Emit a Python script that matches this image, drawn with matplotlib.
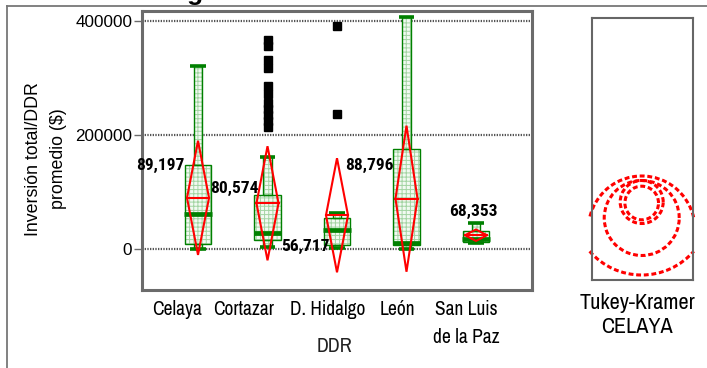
import matplotlib.pyplot as plt
from matplotlib.patches import Rectangle, Arc, Polygon
from matplotlib.lines import Line2D
import numpy as np

# ---- data ----
groups = ['Celaya', 'Cortazar', 'D. Hidalgo', 'León', 'San Luis\nde la Paz']
means = [90500, 81000, 60000, 89000, 25000]
ci_half = [100000, 100000, 100000, 128000, 10000]
whisk_lo = [1000, 3500, 3000, 0, 12000]
q1 = [8800, 17500, 7500, 7000, 13300]
median = [62000, 29000, 35000, 12000, 18000]
q3 = [148000, 95300, 54400, 175400, 32100]
whisk_hi = [322000, 162500, 64500, 407000, 46700]
mean_labels = ['89,197', '80,574', '56,717', '88,796', '68,353']

cortazar_out = [368000, 357000, 332000, 318000, 286000, 272000,
                257000, 246000, 235000, 225000, 214000]
hidalgo_out = [391800, 236800]

# comparison circles (panel units) and the part of each that shows
circle_cy = [77, 78, 62, 50.7, 74]
circle_r = [16.8, 21.5, 37.5, 53.3, 69]
circle_arc = [(0, 360), (0, 360), (0, 360), (13, 167), (221, 319)]

# ---- style ----
narrow = ['Archivo Narrow', 'Liberation Sans', 'DejaVu Sans']
narrow_bold = ['Roboto Condensed', 'Archivo Narrow', 'Liberation Sans']
plain = ['Liberation Sans', 'DejaVu Sans']
green = '#008000'
frame = '#6b6b6b'
plt.rcParams['hatch.linewidth'] = 0.7

fig = plt.figure(figsize=(7.07, 3.68), dpi=100)
ax = fig.add_axes([142/707, 78/368, 390/707, 279/368])

x = np.arange(1, len(groups) + 1)
box_w, thin_w, cap_w, med_w, dia_w = 0.38, 0.12, 0.22, 0.40, 0.317

def filled(x0, y0, w, h):
    ax.add_patch(Rectangle((x0, y0), w, h, fc='#f2faf2', ec='#a3d4a3',
                           hatch='++++', lw=0, zorder=2))
    ax.add_patch(Rectangle((x0, y0), w, h, fc='none', ec=green,
                           lw=1.0, zorder=3))

for i, xi in enumerate(x):
    filled(xi - thin_w/2, q3[i], thin_w, whisk_hi[i] - q3[i])
    filled(xi - thin_w/2, whisk_lo[i], thin_w, q1[i] - whisk_lo[i])
    filled(xi - box_w/2, q1[i], box_w, q3[i] - q1[i])
    ax.plot([xi - cap_w/2, xi + cap_w/2], [whisk_hi[i]] * 2, color=green,
            lw=2.6, solid_capstyle='butt', zorder=4)
    ax.plot([xi - cap_w/2, xi + cap_w/2], [whisk_lo[i]] * 2, color=green,
            lw=2.6, solid_capstyle='butt', zorder=4)
    ax.plot([xi - med_w/2, xi + med_w/2], [median[i]] * 2, color=green,
            lw=3.4, solid_capstyle='butt', zorder=4)
    # mean diamond
    m, h = means[i], ci_half[i]
    ax.add_patch(Polygon([[xi, m + h], [xi + dia_w/2, m], [xi, m - h],
                          [xi - dia_w/2, m]], closed=True, fc='none',
                         ec='red', lw=1.5, zorder=5))
    ax.plot([xi - dia_w/2, xi + dia_w/2], [m, m], color='red', lw=1.5, zorder=5)

ax.plot([2] * len(cortazar_out), cortazar_out, 's', color='black', ms=5.2, zorder=6)
ax.plot([3] * len(hidalgo_out), hidalgo_out, 's', color='black', ms=5.2, zorder=6)

# mean labels
lab_pos = [(0.80, 148000, 'right'), (1.18, 107000, 'left'), (2.20, 6000, 'left'),
           (3.115, 148000, 'left'), (4.96, 66000, 'center')]
for (lx, ly, ha), txt in zip(lab_pos, mean_labels):
    ax.text(lx, ly, txt, ha=ha, va='center', fontsize=12.5, fontweight='bold',
            family=narrow_bold, zorder=7)

ax.set_xlim(0.194, 5.806)
ax.set_ylim(-71000, 418000)
ax.set_yticks([0, 200000, 400000])
ax.set_yticklabels(['0', '200000', '400000'], family=plain, fontsize=12.3)
ax.set_xticks([0.705, 1.66, 2.865, 3.875, 4.86])
ax.set_xticklabels(groups, family=narrow, fontsize=14, linespacing=1.6)
ax.tick_params(axis='x', length=0, pad=7)
ax.tick_params(axis='y', length=6, width=1, color=frame, pad=1)
for yv in [0, 200000, 400000]:
    ax.axhline(yv, color='#555555', lw=1.6, ls=(0, (0.6, 0.6)), zorder=1)
for s in ax.spines.values():
    s.set_color(frame)
    s.set_linewidth(2.2)

fig.text(46/707, 1 - 159/368, 'Inversión total/DDR\npromedio ($)', rotation=90,
         ha='center', va='center', fontsize=12.8, family=plain, linespacing=1.6)
fig.text(335/707, 1 - 347/368, 'DDR', ha='center', va='center', fontsize=14.5,
         family=narrow, color='#222222')

# Tukey-Kramer comparison circles
pax = fig.add_axes([592/707, 88/368, 101/707, 262/368])
pax.set_xlim(0, 101)
pax.set_ylim(0, 262)
pax.set_xticks([])
pax.set_yticks([])
for s in pax.spines.values():
    s.set_color('#666666')
    s.set_linewidth(1.5)
for cy, r, (t1, t2) in zip(circle_cy, circle_r, circle_arc):
    pax.add_patch(Arc((49.7, cy), 2 * r, 2 * r, theta1=t1, theta2=t2,
                      color='red', lw=2.2, ls=(0, (1.6, 0.9)), clip_on=False))

fig.text(637/707, 1 - 315/368, 'Tukey-Kramer\nCELAYA', ha='center', va='center',
         fontsize=16, family=narrow, linespacing=1.25)

# outer frame and the clipped title above it
fig.add_artist(Line2D([7/707, 1], [1 - 6/368] * 2, color='#777777', lw=1.3))
fig.add_artist(Line2D([7/707] * 2, [0, 1 - 6/368], color='#777777', lw=1.3))
fig.text(195/707, 1.0, 'g', ha='center', va='baseline', fontsize=19,
         fontweight='bold', family=plain)

fig.savefig('out.png', dpi=100)
